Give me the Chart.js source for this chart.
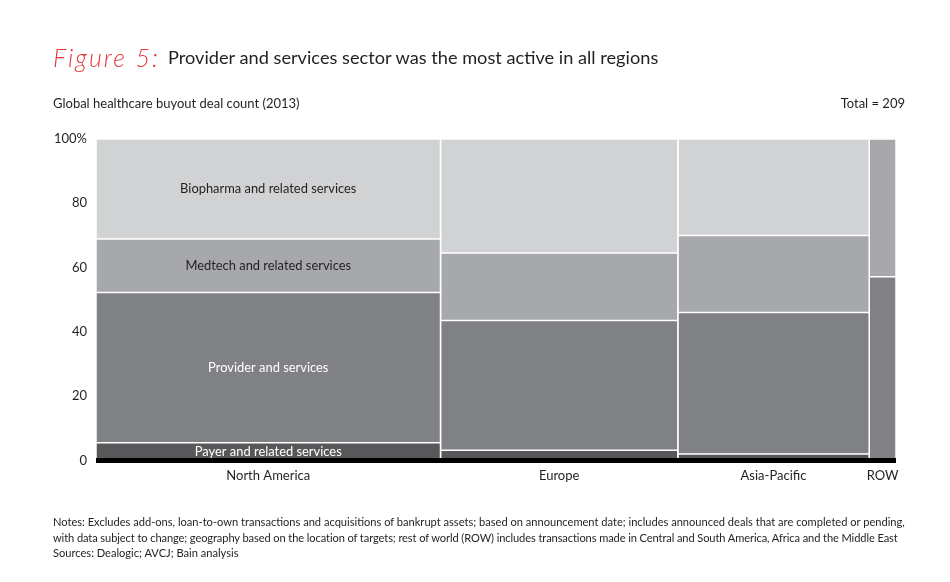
<!DOCTYPE html>
<html><head><meta charset="utf-8">
<script src="https://cdn.jsdelivr.net/npm/chart.js@4.4.1/dist/chart.umd.min.js"></script>
<style>
html,body{margin:0;padding:0;background:#fff;}
#wrap{position:relative;width:950px;height:582px;overflow:hidden;font-family:Lato,sans-serif;color:#231f20;}
canvas{position:absolute;left:0;top:0;}
.t{position:absolute;white-space:nowrap;line-height:1;}
</style></head><body>
<div id="wrap">
<canvas id="c" width="950" height="582"></canvas>
<div class="t" style="left:53px;top:45px;font-style:italic;font-weight:300;font-size:25px;letter-spacing:2px;color:#e8383d;">Figure 5:</div>
<div class="t" style="left:168px;top:48px;font-size:18.2px;">Provider and services sector was the most active in all regions</div>
<div class="t" style="left:53px;top:97px;font-size:13px;">Global healthcare buyout deal count (2013)</div>
<div class="t" style="right:45px;top:97px;font-size:13px;">Total = 209</div>
<div class="t" style="left:53px;top:514px;font-size:11.1px;line-height:15.5px;">Notes: Excludes add-ons, loan-to-own transactions and acquisitions of bankrupt assets; based on announcement date; includes announced deals that are completed or pending,<br><span style="letter-spacing:-0.1px;">with data subject to change; geography based on the location of targets; rest of world (ROW) includes transactions made in Central and South America, Africa and the Middle East</span><br>Sources: Dealogic; AVCJ; Bain analysis</div>
</div>
<script>
const regions = ['North America', 'Europe', 'Asia-Pacific', 'ROW'];
const dealCounts = [90, 62, 50, 7];
const sectorNames = ['Payer and related services', 'Provider and services', 'Medtech and related services', 'Biopharma and related services'];
const payer = [5, 2, 1, 0];
const provider = [42, 25, 22, 4];
const medtech = [15, 13, 12, 3];
const biopharma = [28, 22, 15, 0];
const yTickValues = [0, 20, 40, 60, 80, 100];

const sectorColors = ['#58585a', '#808184', '#a7a8ab', '#d1d2d4'];
const labelColors = ['#ffffff', '#ffffff', '#231f20', '#231f20'];

const sectorSeries = [payer, provider, medtech, biopharma];
const totalDeals = dealCounts.reduce((a, b) => a + b, 0);
const starts = [];
let acc = 0;
dealCounts.forEach(c => { starts.push(acc); acc += c; });

const datasets = [];
datasets.push({
  label: 'axis', data: [{x: 0, y: 0}, {x: totalDeals, y: 0}],
  borderColor: '#000', borderWidth: 5, pointRadius: 0, fill: false, clip: false, borderCapStyle: 'butt'
});
const cells = [];
regions.forEach((r, i) => {
  let cum = 0;
  sectorSeries.forEach((series, s) => {
    const v = series[i];
    if (!v) return;
    const lo = cum / dealCounts[i] * 100;
    cum += v;
    const hi = cum / dealCounts[i] * 100;
    const x0 = starts[i], x1 = starts[i] + dealCounts[i];
    cells.push({i, s, x0, x1, lo, hi});
    datasets.push({
      label: r + ' ' + sectorNames[s],
      data: [{x: x0, y: lo}, {x: x0, y: hi}, {x: x1, y: hi}, {x: x1, y: lo}],
      backgroundColor: sectorColors[s], borderColor: '#ffffff', borderWidth: 1.5,
      pointRadius: 0, fill: 'shape', tension: 0
    });
  });
});

const segLabels = {
  id: 'segLabels',
  afterDatasetsDraw(chart) {
    const {ctx, scales: {x, y}} = chart;
    ctx.save();
    ctx.font = '12.9px Lato';
    ctx.textAlign = 'center';
    ctx.textBaseline = 'middle';
    cells.filter(c => c.i === 0).forEach(c => {
      ctx.fillStyle = labelColors[c.s];
      ctx.fillText(sectorNames[c.s], x.getPixelForValue((c.x0 + c.x1) / 2), y.getPixelForValue((c.lo + c.hi) / 2));
    });
    ctx.restore();
  }
};

new Chart(document.getElementById('c'), {
  type: 'line',
  data: {datasets},
  plugins: [segLabels],
  options: {
    responsive: false, animation: false, events: [],
    layout: {padding: {left: 50, right: 54, top: 139, bottom: 91.5}},
    plugins: {legend: {display: false}, tooltip: {enabled: false}},
    scales: {
      x: {
        type: 'linear', min: 0, max: totalDeals,
        grid: {display: false, drawTicks: false}, border: {display: false},
        afterBuildTicks(axis) { axis.ticks = regions.map((r, i) => ({value: starts[i] + dealCounts[i] / 2})); },
        afterFit(axis) { axis.height = 30; },
        ticks: {autoSkip: false, maxRotation: 0, padding: 8, color: '#231f20', font: {family: 'Lato', size: 13},
          callback(v, idx) { return regions[idx]; }}
      },
      y: {
        min: 0, max: 100,
        grid: {display: false, drawTicks: false}, border: {display: false},
        afterBuildTicks(axis) { axis.ticks = yTickValues.map(v => ({value: v})); },
        afterFit(axis) { axis.width = 46; },
        ticks: {padding: 9, color: '#231f20', font: {family: 'Lato', size: 13},
          callback(v) { return v === 100 ? '100%' : v; }}
      }
    }
  }
});
</script>
</body></html>
